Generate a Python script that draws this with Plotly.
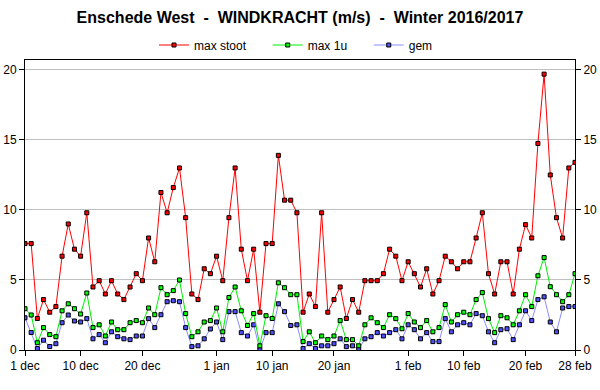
import pandas as pd
import plotly.graph_objects as go

dates = pd.date_range("2016-12-01", "2017-02-28", freq="D")

max_stoot = [7.6, 7.6, 2.25, 3.6, 2.7, 3.1, 6.7, 9.0, 7.2, 6.7,
             9.8, 4.5, 4.95, 4.0, 4.95, 4.0, 3.6, 4.5, 5.45, 4.95,
             8.0, 6.3, 11.25, 9.8, 11.6, 13.0, 9.45, 4.0, 3.6, 5.8,
             5.45, 6.7, 4.95, 9.45, 13.0, 7.2, 4.95, 7.2, 2.7, 7.6,
             7.6, 13.9, 10.7, 10.7, 9.8, 2.7, 4.0, 3.1, 9.8, 2.7,
             3.6, 4.5, 2.25, 3.6, 2.7, 4.95, 4.95, 4.95, 5.45, 7.2,
             6.7, 4.95, 6.3, 5.45, 4.5, 5.8, 4.0, 4.95, 6.7, 6.3,
             5.8, 6.3, 6.3, 8.0, 9.8, 5.45, 4.0, 6.3, 6.3, 4.0,
             7.2, 8.95, 8.0, 14.75, 19.7, 12.5, 9.45, 8.0, 13.0, 13.4]

max_1u = [2.95, 2.5, 0.52, 1.6, 1.1, 0.95, 2.8, 3.3, 2.95, 2.57,
          4.07, 1.6, 1.8, 1.0, 2.0, 1.45, 1.45, 1.95, 2.1, 1.95,
          3.0, 2.52, 4.45, 3.95, 4.24, 5.0, 2.6, 0.95, 1.3, 2.0,
          2.1, 3.0, 1.3, 3.75, 4.5, 2.8, 1.75, 2.6, 0.3, 2.45,
          2.25, 4.8, 4.45, 3.95, 3.95, 0.6, 1.3, 0.52, 1.0, 0.74,
          1.0, 2.1, 0.74, 0.74, 0.3, 1.8, 2.3, 1.95, 1.6, 2.52,
          2.24, 1.52, 2.6, 2.0, 1.6, 2.1, 1.3, 1.6, 3.24, 2.0,
          2.52, 2.7, 2.52, 3.6, 4.1, 2.24, 1.24, 2.45, 2.3, 1.8,
          2.8, 3.95, 3.1, 5.3, 6.6, 4.52, 3.95, 3.45, 3.95, 5.45]

gem = [2.3, 1.25, 0.1, 0.7, 0.25, 0.45, 1.95, 2.5, 2.07, 2.0,
       2.24, 0.8, 1.1, 0.52, 1.3, 0.95, 0.8, 0.74, 1.0, 1.0,
       2.24, 1.6, 2.52, 3.45, 3.52, 3.45, 1.6, 0.24, 0.3, 0.8,
       1.5, 2.0, 0.74, 2.74, 2.74, 1.24, 1.0, 1.8, 0.02, 1.24,
       1.24, 3.3, 2.74, 1.75, 1.8, 0.1, 0.45, 0.1, 0.3, 0.3,
       0.45, 0.8, 0.24, 0.3, 0.05, 0.8, 0.95, 1.24, 1.0, 1.24,
       1.45, 0.8, 1.8, 1.45, 0.8, 1.24, 0.6, 0.6, 2.24, 1.3,
       1.8, 1.95, 1.8, 2.6, 2.45, 1.3, 0.52, 1.45, 1.52, 0.74,
       1.8, 2.8, 2.1, 3.6, 3.8, 2.0, 1.3, 3.0, 3.1, 3.1]

tick_dates = ["2016-12-01", "2016-12-10", "2016-12-20", "2017-01-01", "2017-01-10",
              "2017-01-20", "2017-02-01", "2017-02-10", "2017-02-20", "2017-02-28"]
tick_labels = ["1 dec", "10 dec", "20 dec", "1 jan", "10 jan",
               "20 jan", "1 feb", "10 feb", "20 feb", "28 feb"]
y_ticks = [0, 5, 10, 15, 20]

series = [
    ("max stoot", max_stoot, "#ff0000", "#ff0000", 5),
    ("max 1u", max_1u, "#00ee00", "#00ff00", 5),
    ("gem", gem, "#8c8cff", "#5050ff", 0),
]

fig = go.Figure()
for name, vals, lc, mc, _ in reversed(series):
    fig.add_trace(go.Scatter(
        x=dates, y=vals, name=name, mode="lines+markers",
        line=dict(color=lc, width=1),
        marker=dict(symbol="square", size=4, color=mc, line=dict(color="black", width=1)),
        showlegend=False,
    ))
for name, vals, lc, mc, npad in series:
    fig.add_trace(go.Scatter(
        x=[None], y=[None], name=name + "\u00a0" * npad, mode="lines+markers",
        line=dict(color=lc, width=1),
        marker=dict(symbol="square", size=4, color=mc, line=dict(color="black", width=1)),
    ))
# invisible trace for the right-hand axis
fig.add_trace(go.Scatter(x=[dates[0]], y=[0], yaxis="y2", mode="markers",
                         marker=dict(opacity=0), showlegend=False, hoverinfo="skip"))

font = "Liberation Sans, Arial, sans-serif"
fig.update_layout(
    width=600, height=390,
    margin=dict(l=25, r=25, t=60, b=40, autoexpand=False),
    paper_bgcolor="white", plot_bgcolor="white",
    font=dict(family=font, size=12, color="black"),
    title=dict(text="<b>Enschede West  -  WINDKRACHT (m/s)  -  Winter 2016/2017</b>",
               x=0.5, xanchor="center", y=1 - 17 / 390, yanchor="middle",
               font=dict(size=16, family=font, color="black")),
    legend=dict(orientation="h", x=0.5 - 4 / 550, xanchor="center", y=1 + 15 / 290,
                yanchor="middle", font=dict(size=12), itemwidth=30,
                bgcolor="rgba(0,0,0,0)", traceorder="normal"),
    xaxis=dict(type="date", range=[dates[0], dates[-1]], automargin=False,
               tickvals=tick_dates, ticktext=tick_labels,
               ticks="outside", ticklen=5, tickcolor="black",
               showgrid=False, showline=True, linecolor="black", linewidth=1,
               mirror=True, zeroline=False, tickfont=dict(size=12)),
    yaxis=dict(range=[0, 20.71], tickvals=y_ticks, ticks="outside", ticklen=5,
               tickcolor="black", showgrid=True, gridcolor="#c0c0c0", gridwidth=1,
               showline=True, linecolor="black", linewidth=1, mirror=True,
               zeroline=False, tickfont=dict(size=12), automargin=False),
    yaxis2=dict(range=[0, 20.71], tickvals=y_ticks, ticks="outside", ticklen=5,
                tickcolor="black", overlaying="y", side="right", showgrid=False,
                showline=False, zeroline=False, tickfont=dict(size=12), automargin=False),
)

fig.write_html("out.html", config={"displayModeBar": False},
               post_script="document.body.style.margin='0';")
